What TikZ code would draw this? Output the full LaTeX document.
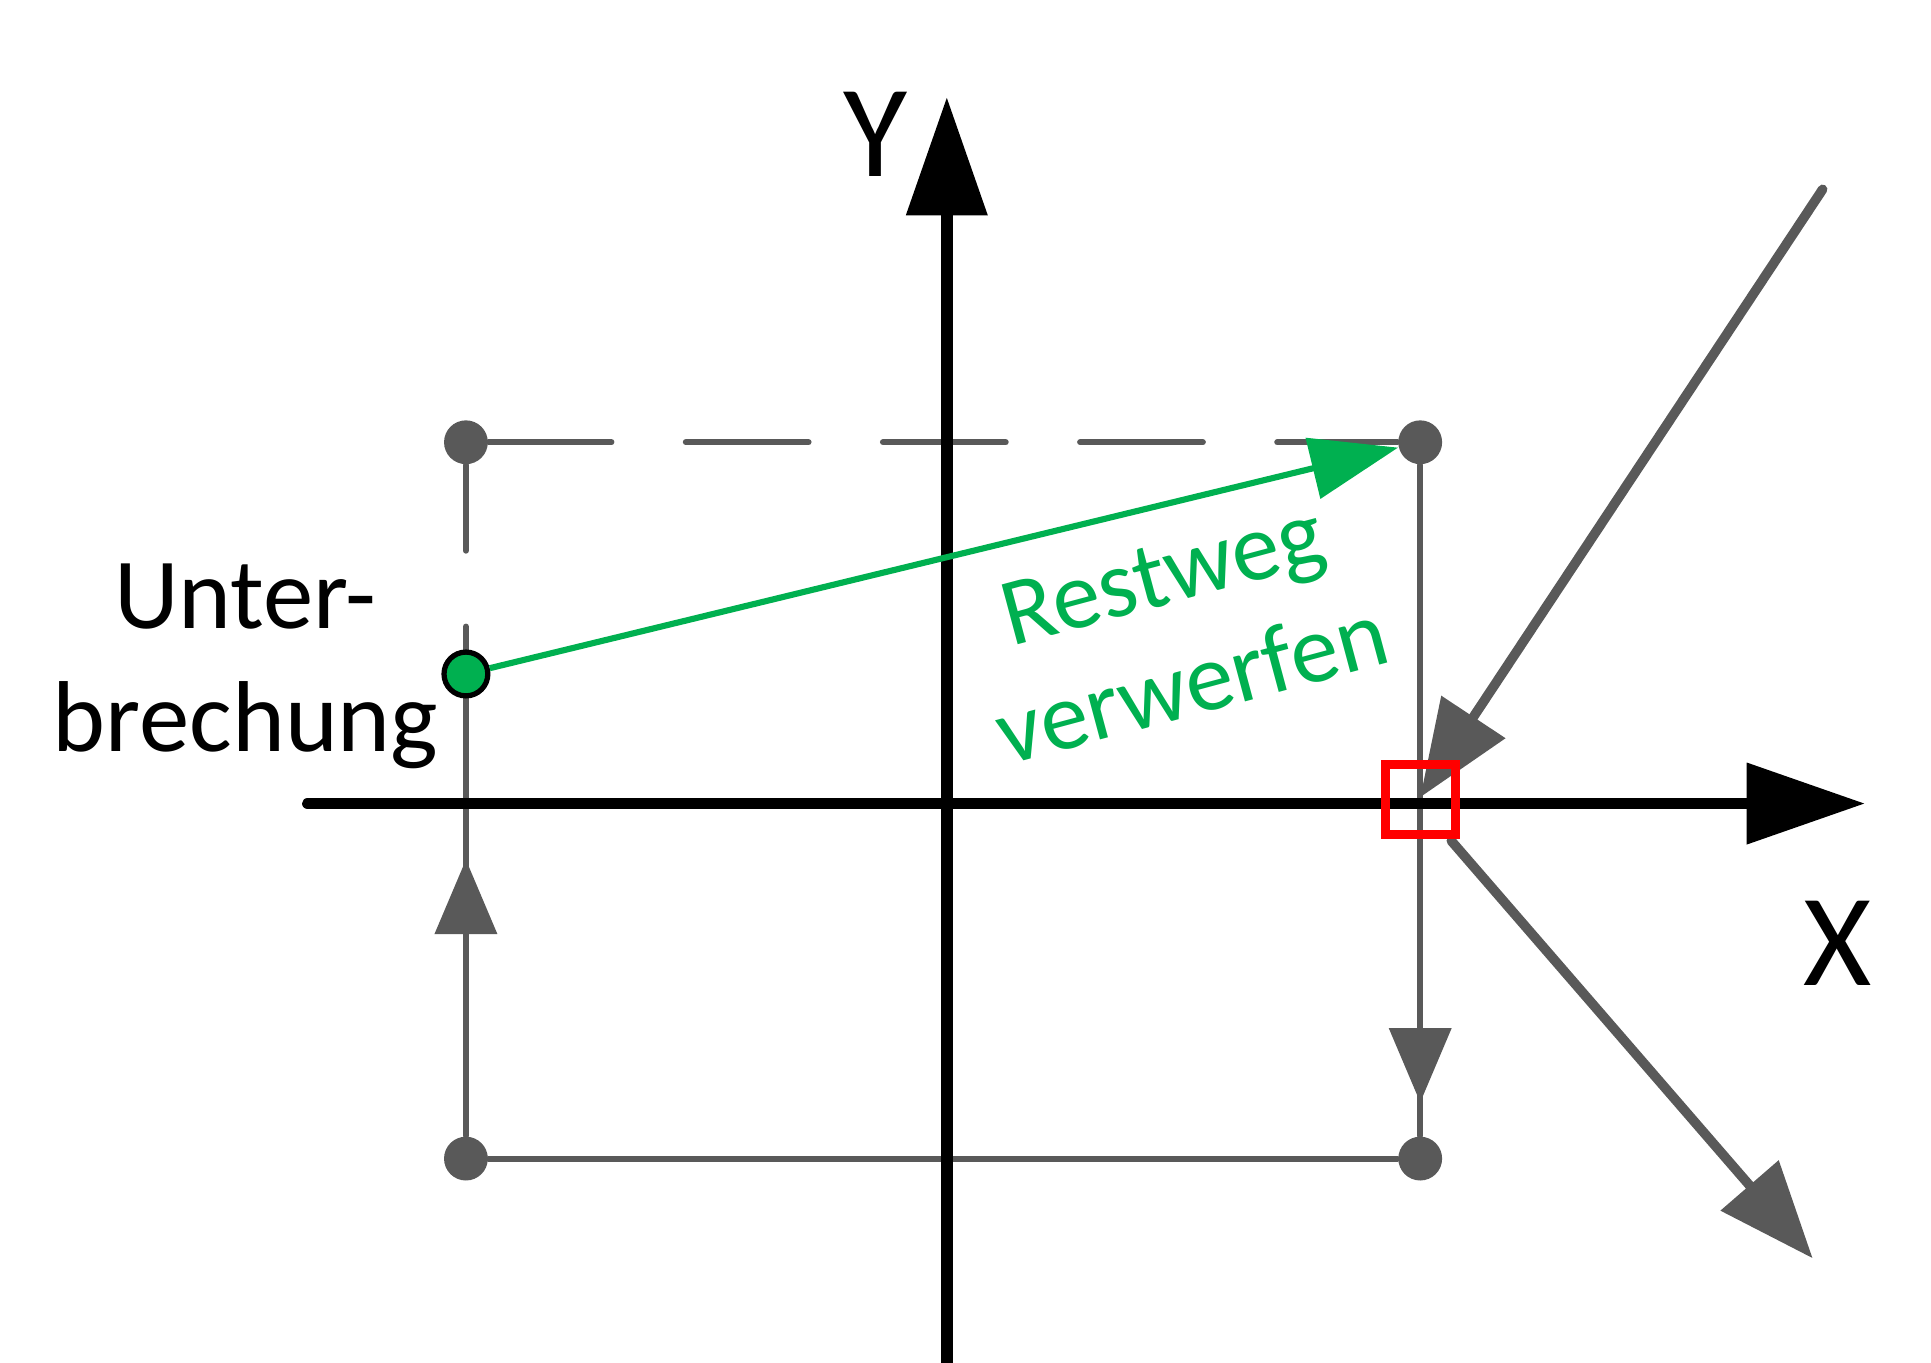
\documentclass[tikz,border=0pt]{standalone}
\usepackage{fontspec}
\setmainfont{Carlito}
\usetikzlibrary{arrows.meta, backgrounds}
\definecolor{dgray}{HTML}{595959}
\definecolor{dgreen}{HTML}{00B050}

\begin{document}
\begin{tikzpicture}[x=0.01cm, y=-0.01cm]

    % Canvas
    \useasboundingbox (0,0) rectangle (1550,1094);

    % Styles
    \tikzset{axis/.style={line width=2.6pt, draw=black, line cap=round}}
    \tikzset{pT/.style={circle, fill=dgray, inner sep=0pt, minimum size=10pt}}
    \tikzset{pG/.style={circle, fill=dgreen, draw=black, line width=1.2pt, inner sep=0pt, minimum size=10pt}}
    \tikzset{pL/.style={draw=dgray, line width=1.4pt, line cap=round}}
    \tikzset{pD/.style={pL, dash pattern=on 28pt off 17pt}}
    \tikzset{aG/.style={-{Triangle[length=17pt, width=14pt]}, line width=1.4pt, draw=dgray, fill=dgray}}
    \tikzset{aD/.style={-{Triangle[length=22pt, width=17pt]}, line width=2.2pt, draw=dgray, fill=dgray, line cap=round}}
    \tikzset{aB/.style={-{Triangle[length=27pt, width=18pt]}}}

    % Axes
    \coordinate (ox) at (247,645);
    \coordinate (tx) at (1497,645);
    \coordinate (oy) at (760,1100);
    \coordinate (ty) at (760,78);
    \draw[axis, aB] (ox) -- (tx);
    \draw[axis, aB] (oy) -- (ty);
    \node (lx) at (1475,757) {\fontsize{30}{30}\selectfont X};
    \node (ly) at (703,108) {\fontsize{30}{30}\selectfont Y};

    % Corner points
    \node (tl) [pT] at (374,355) {};
    \node (tr) [pT] at (1140,355) {};
    \node (bl) [pT] at (374,930) {};
    \node (br) [pT] at (1140,930) {};
    \coordinate (gap1) at (374,442);
    \coordinate (gap2) at (374,503);
    \node (un) [pG] at (374,541) {};

    % Path
    \begin{pgfonlayer}{background}
        \draw[pD] (tl) -- (tr);
        \draw[pL] (tl) -- (gap1);
        \draw[pL] (gap2) -- (un);
        \draw[pL] (un) -- (bl);
        \draw[pL] (bl) -- (br);
        \draw[pL] (tr) -- (br);
    \end{pgfonlayer}
    \coordinate (upA) at (374,880);
    \coordinate (upB) at (374,690);
    \draw[aG] (upA) -- (upB);
    \coordinate (dnA) at (1140,700);
    \coordinate (dnB) at (1140,885);
    \draw[aG] (dnA) -- (dnB);

    % Diagonal
    \coordinate (d1) at (1463,152);
    \coordinate (d2) at (1140,640);
    \coordinate (d3) at (1165,675);
    \coordinate (d4) at (1455,1010);
    \draw[aD] (d1) -- (d2);
    \draw[aD] (d3) -- (d4);

    % Intersection
    \node (hit) [draw=red, line width=2pt, minimum size=16pt, inner sep=0pt] at (1140,642) {};

    % Remaining path
    \draw[-{Triangle[length=20pt, width=14pt]}, line width=1.4pt, draw=dgreen, fill=dgreen] (un) -- (tr);
    \node (rw) [text=dgreen, rotate=15, align=center, font=\fontsize{22}{26}\selectfont] at (945,505) {Restweg\\verwerfen};
    \node (ub) [align=center, font=\fontsize{23}{28}\selectfont] at (197,535) {Unter-\\brechung};

\end{tikzpicture}
\end{document}
